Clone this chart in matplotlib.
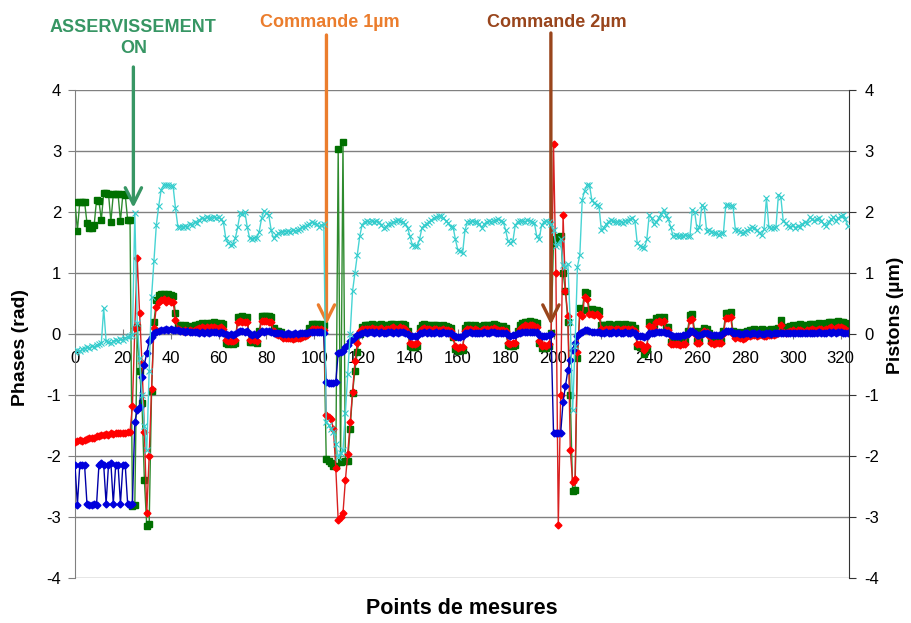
import numpy as np
import matplotlib
matplotlib.use("Agg")
import matplotlib.pyplot as plt
import matplotlib.transforms as mtransforms

plt.rcParams['font.family'] = ['Liberation Sans', 'DejaVu Sans']

# phases (rad) - green square series
green = [
    2.17, 1.69, 2.17, 2.16, 2.17, 1.82, 1.74, 1.74, 1.78, 2.20,
    2.18, 1.87, 2.31, 2.31, 2.30, 1.84, 2.29, 2.30, 2.29, 1.85,
    2.29, 2.28, 1.87, 1.87, -2.82, -2.80, 0.12, -0.60, -1.13, -2.40,
    -3.15, -3.12, -0.94, 0.20, 0.55, 0.64, 0.66, 0.65, 0.64, 0.66,
    0.64, 0.63, 0.34, 0.15, 0.14, 0.13, 0.14, 0.12, 0.13, 0.12,
    0.14, 0.15, 0.17, 0.18, 0.17, 0.18, 0.17, 0.18, 0.20, 0.18,
    0.17, 0.18, 0.16, -0.15, -0.16, -0.15, -0.17, -0.14, 0.28, 0.28,
    0.29, 0.27, 0.28, -0.13, -0.13, -0.12, -0.14, 0.05, 0.30, 0.30,
    0.29, 0.30, 0.28, 0.10, 0.05, 0.05, 0.04, -0.04, -0.05, -0.04,
    -0.05, -0.06, -0.04, -0.05, -0.04, -0.03, 0.00, 0.02, 0.10, 0.16,
    0.17, 0.16, 0.15, 0.16, 0.14, -2.05, -2.08, -2.12, -2.16, -2.16,
    3.03, -2.10, 3.14, -2.08, -2.08, -1.55, -0.97, -0.60, -0.29, 0.00,
    0.12, 0.15, 0.14, 0.15, 0.16, 0.15, 0.14, 0.15, 0.16, 0.10,
    0.14, 0.15, 0.16, 0.17, 0.15, 0.14, 0.17, 0.16, 0.15, 0.05,
    -0.20, -0.21, -0.22, -0.20, 0.10, 0.15, 0.16, 0.15, 0.14, 0.13,
    0.14, 0.15, 0.13, 0.12, 0.14, 0.13, 0.12, 0.10, -0.05, -0.25,
    -0.28, -0.27, -0.26, 0.10, 0.14, 0.15, 0.13, 0.14, 0.12, 0.08,
    0.13, 0.15, 0.14, 0.13, 0.15, 0.16, 0.14, 0.13, 0.12, 0.13,
    0.10, -0.18, -0.20, -0.19, -0.18, 0.05, 0.14, 0.18, 0.20, 0.19,
    0.21, 0.20, 0.19, 0.18, -0.15, -0.23, -0.22, -0.23, -0.20, 0.02,
    1.50, 1.55, 1.59, 1.60, 1.00, 0.70, 0.20, -1.00, -2.58, -2.55,
    -0.40, 0.42, 0.40, 0.69, 0.68, 0.40, 0.41, 0.39, 0.40, 0.38,
    0.15, 0.14, 0.15, 0.16, 0.15, 0.14, 0.15, 0.16, 0.14, 0.15,
    0.16, 0.15, 0.14, 0.15, 0.10, -0.20, -0.21, -0.22, -0.32, -0.25,
    0.20, 0.19, 0.14, 0.27, 0.28, 0.26, 0.28, 0.12, 0.12, -0.13,
    -0.13, -0.12, -0.13, -0.14, -0.13, -0.12, 0.05, 0.31, 0.32, 0.05,
    -0.12, -0.11, 0.05, 0.10, 0.08, 0.02, -0.12, -0.13, -0.12, -0.11,
    -0.12, 0.05, 0.34, 0.35, 0.36, 0.05, 0.02, 0.03, 0.02, 0.01,
    0.03, 0.05, 0.06, 0.07, 0.08, 0.06, 0.07, 0.08, 0.05, 0.06,
    0.07, 0.08, 0.07, 0.09, 0.10, 0.23, 0.12, 0.10, 0.12, 0.13,
    0.14, 0.12, 0.15, 0.16, 0.14, 0.13, 0.15, 0.16, 0.17, 0.15,
    0.16, 0.18, 0.17, 0.16, 0.18, 0.19, 0.20, 0.18, 0.19, 0.21,
    0.20, 0.19, 0.18, 0.12,
]

# phases (rad) - red diamond series
red = [
    -1.77, -1.75, -1.74, -1.75, -1.73, -1.72, -1.70, -1.71, -1.70, -1.68,
    -1.68, -1.66, -1.66, -1.64, -1.65, -1.63, -1.64, -1.63, -1.62, -1.63,
    -1.62, -1.62, -1.61, -1.60, -1.18, 0.10, 1.25, 0.34, -0.48, -1.60,
    -2.93, -2.00, -0.90, 0.10, 0.45, 0.52, 0.55, 0.58, 0.53, 0.55,
    0.52, 0.53, 0.23, 0.08, 0.06, 0.05, 0.06, 0.05, 0.06, 0.05,
    0.07, 0.08, 0.10, 0.11, 0.10, 0.11, 0.10, 0.11, 0.12, 0.10,
    0.10, 0.11, 0.09, -0.10, -0.12, -0.11, -0.12, -0.10, 0.20, 0.21,
    0.20, 0.20, 0.19, -0.10, -0.09, -0.10, -0.11, 0.02, 0.22, 0.21,
    0.22, 0.20, 0.20, 0.05, 0.00, -0.01, -0.02, -0.06, -0.07, -0.06,
    -0.07, -0.08, -0.07, -0.07, -0.06, -0.05, -0.03, -0.01, 0.04, 0.08,
    0.09, 0.08, 0.07, 0.08, 0.06, -1.33, -1.36, -1.40, -1.55, -2.20,
    -3.05, -3.00, -2.94, -2.40, -1.96, -1.45, -0.95, -0.45, -0.15, 0.05,
    0.08, 0.09, 0.08, 0.09, 0.10, 0.09, 0.08, 0.09, 0.10, 0.05,
    0.08, 0.09, 0.10, 0.11, 0.09, 0.08, 0.11, 0.10, 0.09, 0.02,
    -0.15, -0.16, -0.17, -0.15, 0.05, 0.09, 0.10, 0.09, 0.08, 0.07,
    0.08, 0.09, 0.07, 0.06, 0.08, 0.07, 0.06, 0.05, -0.05, -0.20,
    -0.23, -0.22, -0.21, 0.05, 0.08, 0.09, 0.07, 0.08, 0.06, 0.03,
    0.07, 0.09, 0.08, 0.07, 0.09, 0.10, 0.08, 0.07, 0.06, 0.07,
    0.05, -0.14, -0.16, -0.15, -0.14, 0.02, 0.08, 0.12, 0.14, 0.13,
    0.15, 0.14, 0.13, 0.12, -0.12, -0.19, -0.18, -0.19, -0.16, 0.00,
    3.11, 1.00, -3.13, -1.00, 1.95, 0.70, 0.30, -1.90, -2.42, -2.38,
    -0.30, 0.32, 0.30, 0.60, 0.58, 0.33, 0.32, 0.31, 0.33, 0.30,
    0.08, 0.07, 0.08, 0.09, 0.08, 0.07, 0.08, 0.09, 0.07, 0.08,
    0.09, 0.08, 0.07, 0.08, 0.05, -0.16, -0.17, -0.18, -0.26, -0.20,
    0.13, 0.12, 0.08, 0.20, 0.21, 0.19, 0.21, 0.06, 0.06, -0.17,
    -0.17, -0.16, -0.17, -0.18, -0.17, -0.16, 0.00, 0.23, 0.24, 0.00,
    -0.15, -0.14, 0.00, 0.05, 0.03, -0.03, -0.15, -0.16, -0.15, -0.14,
    -0.15, 0.00, 0.26, 0.27, 0.28, 0.00, -0.06, -0.05, -0.07, -0.08,
    -0.06, -0.04, -0.03, -0.02, -0.01, -0.03, -0.02, -0.01, -0.04, -0.03,
    -0.02, -0.01, -0.02, 0.00, 0.02, 0.15, 0.04, 0.02, 0.04, 0.05,
    0.06, 0.04, 0.06, 0.07, 0.05, 0.04, 0.06, 0.07, 0.08, 0.06,
    0.07, 0.09, 0.08, 0.07, 0.09, 0.10, 0.11, 0.09, 0.10, 0.12,
    0.11, 0.10, 0.09, 0.05,
]

# phases (rad) - blue diamond series
blue = [
    -2.15, -2.80, -2.15, -2.15, -2.15, -2.78, -2.80, -2.80, -2.78, -2.80,
    -2.15, -2.12, -2.15, -2.78, -2.15, -2.12, -2.78, -2.15, -2.15, -2.78,
    -2.15, -2.15, -2.78, -2.80, -2.78, -1.44, -1.25, -1.19, -0.70, -0.50,
    -0.31, -0.12, -0.05, 0.02, 0.04, 0.05, 0.06, 0.07, 0.08, 0.07,
    0.08, 0.07, 0.07, 0.06, 0.05, 0.05, 0.04, 0.05, 0.04, 0.04,
    0.03, 0.03, 0.02, 0.03, 0.02, 0.03, 0.02, 0.03, 0.04, 0.03,
    0.02, 0.03, 0.02, 0.00, -0.01, 0.00, -0.01, 0.00, 0.04, 0.05,
    0.05, 0.04, 0.05, 0.00, -0.01, 0.00, -0.01, 0.02, 0.05, 0.04,
    0.05, 0.05, 0.04, 0.02, 0.01, 0.02, 0.01, 0.00, 0.00, 0.01,
    0.00, 0.00, 0.01, 0.00, 0.01, 0.01, 0.02, 0.02, 0.03, 0.04,
    0.04, 0.03, 0.04, 0.03, 0.02, -0.78, -0.80, -0.80, -0.80, -0.78,
    -0.31, -0.30, -0.28, -0.22, -0.18, -0.12, -0.08, -0.05, -0.02, 0.00,
    0.02, 0.03, 0.02, 0.03, 0.03, 0.02, 0.03, 0.02, 0.03, 0.01,
    0.02, 0.03, 0.03, 0.02, 0.03, 0.02, 0.03, 0.03, 0.02, 0.00,
    -0.03, -0.03, -0.04, -0.03, 0.01, 0.02, 0.03, 0.02, 0.03, 0.02,
    0.02, 0.03, 0.02, 0.02, 0.03, 0.02, 0.02, 0.01, -0.01, -0.04,
    -0.05, -0.05, -0.04, 0.01, 0.02, 0.03, 0.02, 0.02, 0.02, 0.01,
    0.02, 0.03, 0.02, 0.02, 0.03, 0.03, 0.02, 0.02, 0.02, 0.02,
    0.01, -0.02, -0.03, -0.02, -0.02, 0.01, 0.02, 0.03, 0.04, 0.04,
    0.04, 0.04, 0.03, 0.03, -0.02, -0.03, -0.03, -0.03, -0.02, 0.00,
    -1.63, -1.63, -1.63, -1.62, -1.11, -0.85, -0.59, -0.42, -0.26, -0.14,
    -0.04, 0.01, 0.04, 0.06, 0.06, 0.05, 0.04, 0.04, 0.03, 0.03,
    0.02, 0.02, 0.03, 0.02, 0.02, 0.03, 0.02, 0.03, 0.02, 0.02,
    0.03, 0.02, 0.02, 0.03, 0.01, -0.03, -0.04, -0.04, -0.05, -0.03,
    0.02, 0.02, 0.01, 0.03, 0.03, 0.03, 0.03, 0.01, 0.01, -0.02,
    -0.03, -0.03, -0.03, -0.03, -0.02, -0.02, 0.00, 0.05, 0.05, 0.01,
    -0.01, -0.01, 0.00, 0.01, 0.01, 0.00, -0.01, -0.01, -0.02, -0.01,
    -0.01, 0.01, 0.05, 0.05, 0.05, 0.02, 0.01, 0.01, 0.00, 0.00,
    0.01, 0.01, 0.00, 0.01, 0.01, 0.00, 0.01, 0.00, 0.00, 0.01,
    0.01, 0.00, 0.01, 0.01, 0.01, 0.02, 0.01, 0.01, 0.01, 0.02,
    0.02, 0.01, 0.02, 0.02, 0.01, 0.02, 0.02, 0.01, 0.02, 0.02,
    0.02, 0.03, 0.02, 0.02, 0.02, 0.03, 0.02, 0.03, 0.02, 0.03,
    0.03, 0.02, 0.02, 0.02,
]

# pistons (um) - cyan cross series
cyan = [
    -0.29, -0.27, -0.28, -0.25, -0.24, -0.22, -0.23, -0.20, -0.21, -0.18,
    -0.17, -0.15, 0.42, -0.12, -0.13, -0.15, -0.12, -0.10, -0.12, -0.08,
    -0.10, -0.06, -0.05, -0.04, -0.02, 1.98, 0.18, -0.40, -1.00, -1.50,
    -1.90, -0.60, 0.61, 1.20, 1.79, 2.10, 2.36, 2.44, 2.45, 2.44,
    2.43, 2.42, 2.06, 1.76, 1.76, 1.75, 1.77, 1.76, 1.80, 1.79,
    1.83, 1.82, 1.87, 1.90, 1.89, 1.91, 1.90, 1.90, 1.92, 1.90,
    1.91, 1.88, 1.84, 1.57, 1.50, 1.46, 1.48, 1.57, 1.75, 1.98,
    1.97, 2.00, 1.75, 1.57, 1.56, 1.58, 1.57, 1.68, 1.90, 2.02,
    1.98, 1.95, 1.70, 1.57, 1.62, 1.65, 1.67, 1.68, 1.68, 1.69,
    1.68, 1.70, 1.69, 1.70, 1.72, 1.76, 1.75, 1.78, 1.80, 1.84,
    1.82, 1.80, 1.76, 1.78, 1.80, -1.45, -1.49, -1.55, -1.60, -1.80,
    -2.01, -1.95, -1.90, -1.30, -0.66, 0.00, 0.70, 1.00, 1.30, 1.60,
    1.79, 1.84, 1.85, 1.84, 1.86, 1.84, 1.85, 1.83, 1.78, 1.74,
    1.76, 1.80, 1.81, 1.83, 1.85, 1.87, 1.86, 1.84, 1.80, 1.74,
    1.60, 1.46, 1.45, 1.44, 1.55, 1.74, 1.78, 1.80, 1.84, 1.87,
    1.90, 1.91, 1.93, 1.94, 1.90, 1.86, 1.82, 1.76, 1.76, 1.55,
    1.38, 1.36, 1.33, 1.70, 1.84, 1.84, 1.85, 1.84, 1.84, 1.80,
    1.74, 1.80, 1.84, 1.85, 1.84, 1.86, 1.87, 1.88, 1.86, 1.84,
    1.70, 1.52, 1.50, 1.52, 1.78, 1.84, 1.86, 1.85, 1.84, 1.87,
    1.86, 1.84, 1.82, 1.60, 1.55, 1.78, 1.84, 1.86, 1.84, 1.80,
    1.70, 1.45, 1.48, 1.55, 1.13, 1.10, 1.15, 0.20, -1.25, -0.20,
    1.10, 1.30, 2.20, 2.35, 2.44, 2.45, 2.20, 2.15, 2.12, 2.10,
    1.70, 1.74, 1.80, 1.84, 1.87, 1.85, 1.83, 1.84, 1.84, 1.82,
    1.85, 1.86, 1.88, 1.90, 1.86, 1.49, 1.45, 1.43, 1.41, 1.55,
    1.95, 1.90, 1.80, 1.84, 1.90, 1.97, 2.03, 1.95, 1.88, 1.75,
    1.60, 1.62, 1.60, 1.61, 1.60, 1.62, 1.61, 1.60, 2.03, 2.00,
    1.71, 1.75, 2.11, 2.08, 1.69, 1.70, 1.68, 1.66, 1.65, 1.63,
    1.66, 1.65, 2.11, 2.12, 2.10, 2.10, 1.71, 1.70, 1.68, 1.65,
    1.68, 1.70, 1.72, 1.76, 1.74, 1.70, 1.66, 1.63, 1.72, 2.23,
    1.75, 1.73, 1.74, 1.76, 2.28, 2.25, 1.85, 1.82, 1.77, 1.76,
    1.78, 1.74, 1.77, 1.75, 1.80, 1.84, 1.82, 1.91, 1.88, 1.86,
    1.89, 1.90, 1.85, 1.80, 1.77, 1.84, 1.88, 1.91, 1.86, 1.90,
    1.93, 1.95, 1.88, 1.77,
]

x_ticks = list(range(0, 321, 20))
y_ticks = list(range(-4, 5))

# arrow annotations: label, x position of arrow, y of arrow tip, colour
notes = [
    ("ASSERVISSEMENT\nON", 24.4, 2.07, "#379664"),
    ("Commande 1\u00b5m", 105.1, 0.15, "#EB7D2D"),
    ("Commande 2\u00b5m", 198.9, 0.15, "#99451C"),
]
text_dx = [0.0, 1.3, 2.6]

W, H = 911, 623
fig = plt.figure(figsize=(W / 100, H / 100), dpi=100)
ax = fig.add_axes([75 / W, 1 - 578 / H, (849 - 75) / W, (578 - 90) / H])
ax2 = ax.twinx()

grid_col = "#808080"

def idx(s):
    return np.arange(len(s))

ax.plot(idx(green), green, color="#2E8B2E", lw=1.0, marker="s", ms=4.8,
        mfc="#007000", mec="#007000", zorder=3)
ax.plot(idx(red), red, color="#D82020", lw=1.0, marker="D", ms=3.5,
        mfc="#FF0000", mec="#FF0000", zorder=4)
ax.plot(idx(blue), blue, color="#0000A8", lw=1.0, marker="D", ms=3.5,
        mfc="#0000DD", mec="#0000DD", zorder=5)
ax2.plot(idx(cyan), cyan, color="#48D4D4", lw=1.0, marker="x", ms=4.5,
         mew=0.8, mec="#33CCCC", zorder=3)

for a in (ax, ax2):
    a.set_xlim(0, 323.5)
    a.set_ylim(-4, 4)
    a.set_yticks(y_ticks)
    a.set_yticklabels([str(v) for v in y_ticks])

ax.yaxis.grid(True, color=grid_col, lw=1.0)
ax.set_axisbelow(True)
ax.set_xticks(x_ticks)
ax.set_xticklabels([str(v) for v in x_ticks])

ax.spines["top"].set_visible(False)
ax.spines["right"].set_visible(False)
ax.spines["left"].set_color(grid_col)
ax.spines["bottom"].set_position(("data", 0))
ax.spines["bottom"].set_color(grid_col)
ax.tick_params(axis="x", direction="inout", length=7, color=grid_col,
               labelsize=12, pad=9)
ax.tick_params(axis="y", direction="out", length=5, color=grid_col,
               labelsize=12, pad=5)

for s in ("top", "left", "bottom"):
    ax2.spines[s].set_visible(False)
ax2.spines["right"].set_color("#333333")
ax2.tick_params(axis="y", direction="out", length=5, color="#333333",
                labelsize=12, pad=6)

fig.text(21 / W, 1 - 348 / H, "Phases (rad)", rotation=90, ha="center",
         va="center", fontsize=14, fontweight="bold")
fig.text(895 / W, 1 - 315 / H, "Pistons (\u00b5m)", rotation=90, ha="center",
         va="center", fontsize=14, fontweight="bold")
fig.text(462 / W, 1 - 608 / H, "Points de mesures", ha="center",
         va="center", fontsize=15.5, fontweight="bold")

# arrows start above the plot area, text sits above the arrows
trans = mtransforms.blended_transform_factory(ax.transData, fig.transFigure)
starts = [1 - 67 / H, 1 - 35 / H, 1 - 33 / H]
for (label, xa, tip, col), y0, dx in zip(notes, starts, text_dx):
    ax.annotate("", xy=(xa, tip), xycoords="data",
                xytext=(xa, y0), textcoords=trans,
                arrowprops=dict(arrowstyle="->,head_length=0.9,head_width=0.45",
                                color=col, lw=2.4, shrinkA=0, shrinkB=0,
                                mutation_scale=13),
                annotation_clip=False, zorder=6)
    lines = label.split("\n")
    if len(lines) == 2:
        ax.text(xa, 1 - 32 / H, lines[0], transform=trans, ha="center",
                va="baseline", fontsize=13, fontweight="bold", color=col)
        ax.text(xa, 1 - 53 / H, lines[1], transform=trans, ha="center",
                va="baseline", fontsize=13, fontweight="bold", color=col)
    else:
        ax.text(xa + dx, 1 - 27 / H, label, transform=trans, ha="center",
                va="baseline", fontsize=13, fontweight="bold", color=col)

fig.savefig("out.png", dpi=100, facecolor="white")
